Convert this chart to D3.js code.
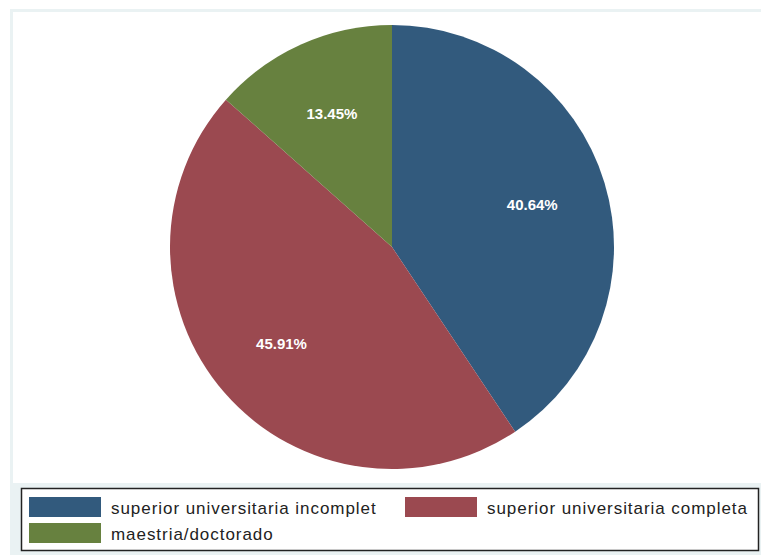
<!DOCTYPE html>
<html>
<head>
<meta charset="utf-8">
<script src="https://cdn.jsdelivr.net/npm/d3@7"></script>
<style>
  html, body { margin: 0; padding: 0; background: #ffffff; }
  svg { display: block; }
</style>
</head>
<body>
<svg id="chart" width="761" height="555"></svg>
<script>
// Education level shares (percent)
const categories = ["superior universitaria incomplet", "superior universitaria completa", "maestria/doctorado"];
const shares = [40.64, 45.91, 13.45];
const sliceLabels = ["40.64%", "45.91%", "13.45%"];
const colors = ["#325a7d", "#9b4950", "#67813f"];

const svg = d3.select("#chart");
const W = 761, H = 555;

// graph region (light tint) and white plot region
svg.append("rect").attr("x", 10).attr("y", 9).attr("width", W - 10).attr("height", H - 9).attr("fill", "#eaf2f3");
svg.append("rect").attr("x", 13).attr("y", 12).attr("width", W - 13).attr("height", 471).attr("fill", "#ffffff");

// pie
const cx = 392, cy = 247, R = 222;
const pie = d3.pie().sort(null).value(d => d)(shares);
const arc = d3.arc().innerRadius(0).outerRadius(R);
const labelArc = d3.arc().innerRadius(R * 0.66).outerRadius(R * 0.66);

const g = svg.append("g").attr("transform", `translate(${cx},${cy})`);
g.selectAll("path.slice").data(pie).join("path")
  .attr("class", "slice")
  .attr("d", arc)
  .attr("fill", (d, i) => colors[i]);

g.selectAll("text.lbl").data(pie).join("text")
  .attr("class", "lbl")
  .attr("transform", d => `translate(${labelArc.centroid(d)})`)
  .attr("text-anchor", "middle")
  .attr("dominant-baseline", "central")
  .attr("font-family", "Liberation Sans, Arial, sans-serif")
  .attr("font-size", 15)
  .attr("font-weight", "bold")
  .attr("fill", "#ffffff")
  .text((d, i) => sliceLabels[i]);

// legend
const lg = svg.append("g");
lg.append("rect").attr("x", 21.5).attr("y", 488.5).attr("width", 737).attr("height", 62)
  .attr("fill", "#ffffff").attr("stroke", "#222").attr("stroke-width", 1.5);

const legendPos = [
  { x: 29, y: 497 },
  { x: 405, y: 497 },
  { x: 29, y: 523 }
];
const items = lg.selectAll("g.item").data(categories).join("g")
  .attr("class", "item")
  .attr("transform", (d, i) => `translate(${legendPos[i].x},${legendPos[i].y})`);
items.append("rect").attr("width", 72).attr("height", 20)
  .attr("fill", (d, i) => colors[i]);
items.append("text")
  .attr("x", 82).attr("y", 11)
  .attr("dominant-baseline", "central")
  .attr("font-family", "Liberation Sans, Arial, sans-serif")
  .attr("font-size", 17)
  .attr("letter-spacing", 0.95)
  .attr("fill", "#222")
  .text(d => d);
</script>
</body>
</html>
